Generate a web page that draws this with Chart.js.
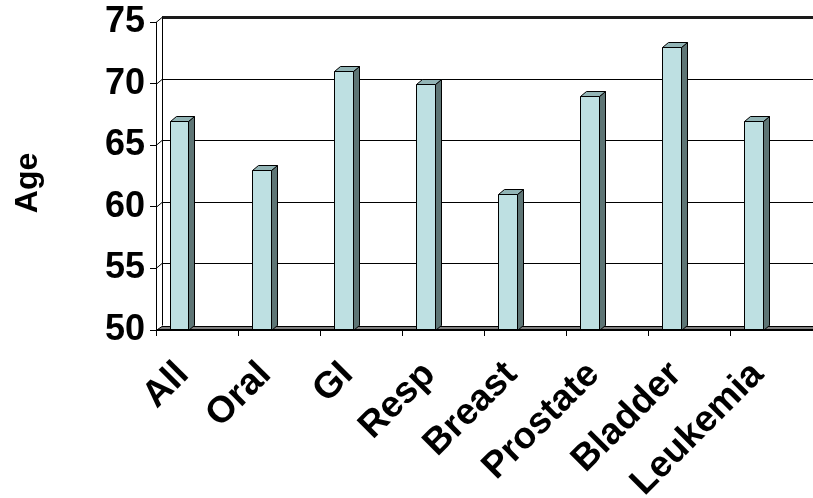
<!DOCTYPE html>
<html>
<head>
<meta charset="utf-8">
<script src="https://cdn.jsdelivr.net/npm/chart.js@4.4.1/dist/chart.umd.min.js"></script>
<style>
  html, body { margin: 0; padding: 0; background: #ffffff; }
  #wrap { width: 813px; height: 498px; }
</style>
</head>
<body>
<div id="wrap"><canvas id="chart" width="813" height="498"></canvas></div>
<script>
// Median age at diagnosis by cancer site
const categories = ['All', 'Oral', 'GI', 'Resp', 'Breast', 'Prostate', 'Bladder', 'Leukemia'];
const medianAge = [67, 63, 71, 70, 61, 69, 73, 67];
const yTicks = [50, 55, 60, 65, 70, 75];
const axisTitle = 'Age';

// 3-D look: depth offset of the back wall and the column prisms
const DX = 6;
const DY = -5;
const FONT = '"Liberation Sans", Arial, Helvetica, sans-serif';
const COL_FRONT = '#BEE0E2';
const COL_SIDE = '#5E7575';
const COL_TOP = '#92B4B5';
const FLOOR = '#808080';
const BAR_SHIFT = -0.22; // columns sit left of the category centre (fraction of category width)

const depthPlugin = {
  id: 'depth3d',
  beforeDatasetsDraw(chart) {
    const { ctx, chartArea: { left, right }, scales: { y } } = chart;
    const yMin = yTicks[0], yMax = yTicks[yTicks.length - 1];
    ctx.save();
    ctx.strokeStyle = '#000';
    // back-wall gridlines with their side-wall diagonals
    yTicks.forEach(v => {
      if (v === yMin) return;
      const py = Math.round(y.getPixelForValue(v)) + 0.5;
      ctx.lineWidth = 1;
      ctx.beginPath();
      ctx.moveTo(left, py);
      ctx.lineTo(left + DX, py + DY);
      ctx.stroke();
      ctx.lineWidth = v === yMax ? 3 : 1;
      ctx.strokeStyle = v === yMax ? '#1a1a1a' : '#000';
      ctx.beginPath();
      ctx.moveTo(left + DX, py + DY);
      ctx.lineTo(right + 2, py + DY);
      ctx.stroke();
      ctx.strokeStyle = '#000';
    });
    // back wall left edge
    const pTop = Math.round(y.getPixelForValue(yMax)) + 0.5;
    const pBot = Math.round(y.getPixelForValue(yMin)) + 0.5;
    ctx.lineWidth = 1;
    ctx.beginPath();
    ctx.moveTo(left + DX + 0.5, pTop + DY);
    ctx.lineTo(left + DX + 0.5, pBot + DY);
    ctx.stroke();
    // floor
    ctx.beginPath();
    ctx.moveTo(left, pBot);
    ctx.lineTo(right + 2, pBot);
    ctx.lineTo(right + 2, pBot + DY + 1);
    ctx.lineTo(left + DX, pBot + DY + 1);
    ctx.closePath();
    ctx.fillStyle = FLOOR;
    ctx.fill();
    ctx.lineWidth = 1;
    ctx.stroke();
    ctx.restore();
  },
  beforeDatasetDraw(chart, args) {
    const { ctx, scales: { x, y } } = chart;
    const catW = x.width / categories.length;
    const basePx = y.getPixelForValue(yTicks[0]);
    ctx.save();
    ctx.strokeStyle = '#000';
    ctx.lineWidth = 1;
    ctx.lineJoin = 'miter';
    args.meta.data.forEach(el => {
      const p = el.getProps(['x', 'y', 'width'], true);
      const x0 = Math.round(p.x + BAR_SHIFT * catW - p.width / 2) + 0.5;
      const x1 = Math.round(p.x + BAR_SHIFT * catW + p.width / 2) + 0.5;
      const yt = Math.round(p.y) + 0.5;
      const yb = Math.round(basePx) + 0.5;
      // side face
      ctx.beginPath();
      ctx.moveTo(x1, yt);
      ctx.lineTo(x1 + DX, yt + DY);
      ctx.lineTo(x1 + DX, yb + DY);
      ctx.lineTo(x1, yb);
      ctx.closePath();
      ctx.fillStyle = COL_SIDE;
      ctx.fill();
      ctx.stroke();
      // top face
      ctx.beginPath();
      ctx.moveTo(x0, yt);
      ctx.lineTo(x0 + DX, yt + DY);
      ctx.lineTo(x1 + DX, yt + DY);
      ctx.lineTo(x1, yt);
      ctx.closePath();
      ctx.fillStyle = COL_TOP;
      ctx.fill();
      ctx.stroke();
      // front face
      ctx.beginPath();
      ctx.rect(x0, yt, x1 - x0, yb - yt);
      ctx.fillStyle = COL_FRONT;
      ctx.fill();
      ctx.stroke();
    });
    ctx.restore();
    return false;
  },
  afterDraw(chart) {
    const { ctx, chartArea: { left, right, bottom } } = chart;
    ctx.save();
    // front edge of the floor / category axis
    ctx.strokeStyle = '#000';
    ctx.lineWidth = 2;
    ctx.beginPath();
    ctx.moveTo(left, Math.round(bottom));
    ctx.lineTo(right + 2, Math.round(bottom));
    ctx.stroke();
    // value-axis title
    ctx.translate(28, 183);
    ctx.rotate(-Math.PI / 2);
    ctx.fillStyle = '#000';
    ctx.font = 'bold 32px ' + FONT;
    ctx.textAlign = 'center';
    ctx.textBaseline = 'middle';
    ctx.fillText(axisTitle, 0, 0);
    ctx.restore();
  }
};

new Chart(document.getElementById('chart'), {
  type: 'bar',
  data: {
    labels: categories,
    datasets: [{
      data: medianAge,
      backgroundColor: COL_FRONT,
      categoryPercentage: 1,
      barPercentage: 0.23
    }]
  },
  options: {
    responsive: false,
    animation: false,
    devicePixelRatio: 1,
    layout: { padding: { top: 22, right: 0, left: 0, bottom: 0 } },
    plugins: { legend: { display: false }, tooltip: { enabled: false } },
    scales: {
      x: {
        offset: true,
        grid: { display: true, offset: true, drawOnChartArea: false, drawTicks: true, tickLength: 6, color: '#000', lineWidth: 1 },
        border: { display: true, color: '#000', width: 1 },
        ticks: {
          autoSkip: false,
          minRotation: 45,
          maxRotation: 45,
          padding: 17,
          labelOffset: -14,
          color: '#000',
          font: { family: FONT, size: 37, weight: 'bold' }
        },
        afterFit(scale) { scale.height = 168; scale.paddingLeft = 0; scale.paddingRight = 0; }
      },
      y: {
        min: yTicks[0],
        max: yTicks[yTicks.length - 1],
        grid: { display: true, drawOnChartArea: false, drawTicks: true, tickLength: 6, color: '#000', lineWidth: 1 },
        border: { display: true, color: '#000', width: 1 },
        afterBuildTicks(scale) { scale.ticks = yTicks.map(v => ({ value: v })); },
        ticks: {
          padding: 5,
          color: '#000',
          font: { family: FONT, size: 36, weight: 'bold' }
        },
        afterFit(scale) { scale.width = 156; scale.paddingTop = 0; scale.paddingBottom = 0; }
      }
    }
  },
  plugins: [depthPlugin]
});
</script>
</body>
</html>
